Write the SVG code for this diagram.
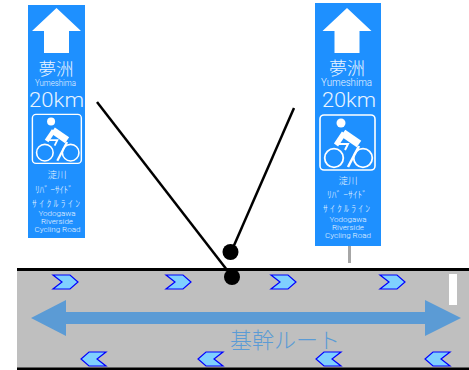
<svg xmlns="http://www.w3.org/2000/svg" width="469" height="370" viewBox="0 0 469 370">
<style>
.sign{fill:#1e90ff}
.w{fill:#fff}
.t{fill:#e8f4ff;font-family:Roboto,"Liberation Sans",sans-serif;text-anchor:middle;font-weight:300}
.j{fill:#e8f4ff;font-family:"Noto Sans CJK JP",sans-serif;text-anchor:middle;font-weight:300}
.conn{stroke:#000;stroke-width:2.5;fill:none}
.chev{fill:#7fd0ff;stroke:#0000ff;stroke-width:1.2}
</style>
<defs>
<g id="up"><polygon class="w" points="0,0 24.500,23 12.500,23 12.500,45 -12.500,45 -12.500,23 -24.500,23"/></g>
<g id="icon">
<rect x="1" y="1" width="55" height="55" rx="4" fill="none" stroke="#fff" stroke-width="1.600"/>
<circle cx="15" cy="44" r="9.300" fill="none" stroke="#fff" stroke-width="1.800"/>
<circle cx="44" cy="44" r="9.300" fill="none" stroke="#fff" stroke-width="1.800"/>
<circle cx="22" cy="9" r="4.500" class="w"/>
<path d="M25 19L17 31" stroke="#fff" stroke-width="5" fill="none"/>
<path d="M24 19L40 30" stroke="#fff" stroke-width="8" fill="none"/>
<path d="M20 30H29L26 36" stroke="#fff" stroke-width="2" fill="none"/>
<path d="M40 32L29 53" stroke="#fff" stroke-width="2.500" fill="none"/>
</g>
<polygon id="cr" class="chev" points="0,0 17,0 25,7 17,14 0,14 9,7"/>
<polygon id="cl" class="chev" points="25,0 8,0 0,7 8,14 25,14 16,7"/>
</defs>
<g id="road">
<rect x="17" y="269" width="452" height="100" fill="#bfbfbf"/>
<rect x="17" y="268" width="452" height="3" fill="#000"/>
<rect x="17" y="367.500" width="452" height="2.500" fill="#000"/>
<rect x="449" y="274" width="8" height="31" fill="#fff"/>
</g>
<g id="route-arrow">
<polygon fill="#5b9bd5" points="31,318 66,300 66,312 425,312 425,300 461,318 425,336 425,324 66,324 66,336"/>
<text x="285" y="348" font-size="22" fill="#5b9bd5" text-anchor="middle" font-family="'Noto Sans CJK JP',sans-serif" font-weight="300">基幹ルート</text>
</g>
<g id="chevrons">
<use href="#cr" x="53" y="275"/><use href="#cr" x="166" y="275"/><use href="#cr" x="271" y="275"/><use href="#cr" x="380" y="275"/>
<use href="#cl" x="81" y="352"/><use href="#cl" x="198" y="352"/><use href="#cl" x="316" y="352"/><use href="#cl" x="425" y="352"/>
</g>
<g id="sign-left">
<rect class="sign" x="28" y="5" width="57" height="233"/>
<use href="#up" x="56.500" y="8"/>
<text class="j" x="56" y="75" font-size="17.500">夢洲</text>
<text class="t" x="55.500" y="86" font-size="8.500" textLength="41" lengthAdjust="spacingAndGlyphs">Yumeshima</text>
<text class="t" x="56.500" y="107" font-size="20" textLength="55" lengthAdjust="spacingAndGlyphs">20km</text>
<use href="#icon" transform="translate(31.500,113.500) scale(0.89)"/>
<text class="j" x="57" y="178" font-size="9.500">淀川</text>
<text class="j" x="54" y="193" font-size="9.500" textLength="38">ﾘﾊﾞ ｰｻｲﾄﾞ</text>
<text class="j" x="56" y="206.500" font-size="9.500" textLength="48">ｻｲｸﾙﾗｲﾝ</text>
<text class="t" x="57" y="216" font-size="8">Yodogawa</text>
<text class="t" x="57" y="224" font-size="8">Riverside</text>
<text class="t" x="57.500" y="232" font-size="8">Cycling Road</text>
</g>
<g id="sign-right">
<rect fill="#a6a6a6" x="348" y="246" width="3" height="17"/>
<rect class="sign" x="315" y="3" width="66" height="243"/>
<use href="#up" x="347" y="8"/>
<text class="j" x="347" y="75" font-size="18">夢洲</text>
<text class="t" x="346.500" y="86" font-size="10" textLength="51" lengthAdjust="spacingAndGlyphs">Yumeshima</text>
<text class="t" x="349" y="107" font-size="20" textLength="54" lengthAdjust="spacingAndGlyphs">20km</text>
<use href="#icon" transform="translate(319,114)"/>
<text class="j" x="348" y="184" font-size="9.500">淀川</text>
<text class="j" x="347" y="198" font-size="9.500" textLength="40">ﾘﾊﾞ ｰｻｲﾄﾞ</text>
<text class="j" x="346.500" y="211.500" font-size="9.500" textLength="47">ｻｲｸﾙﾗｲﾝ</text>
<text class="t" x="348" y="222" font-size="8">Yodogawa</text>
<text class="t" x="348" y="230" font-size="8">Riverside</text>
<text class="t" x="348" y="237.500" font-size="8">Cycling Road</text>
</g>
<g id="connectors">
<line class="conn" x1="97" y1="102" x2="227" y2="270"/>
<line class="conn" x1="294" y1="108" x2="232" y2="250"/>
</g>
<g id="dots">
<circle cx="230.500" cy="252" r="8"/>
<circle cx="232" cy="277" r="8"/>
</g>
</svg>
